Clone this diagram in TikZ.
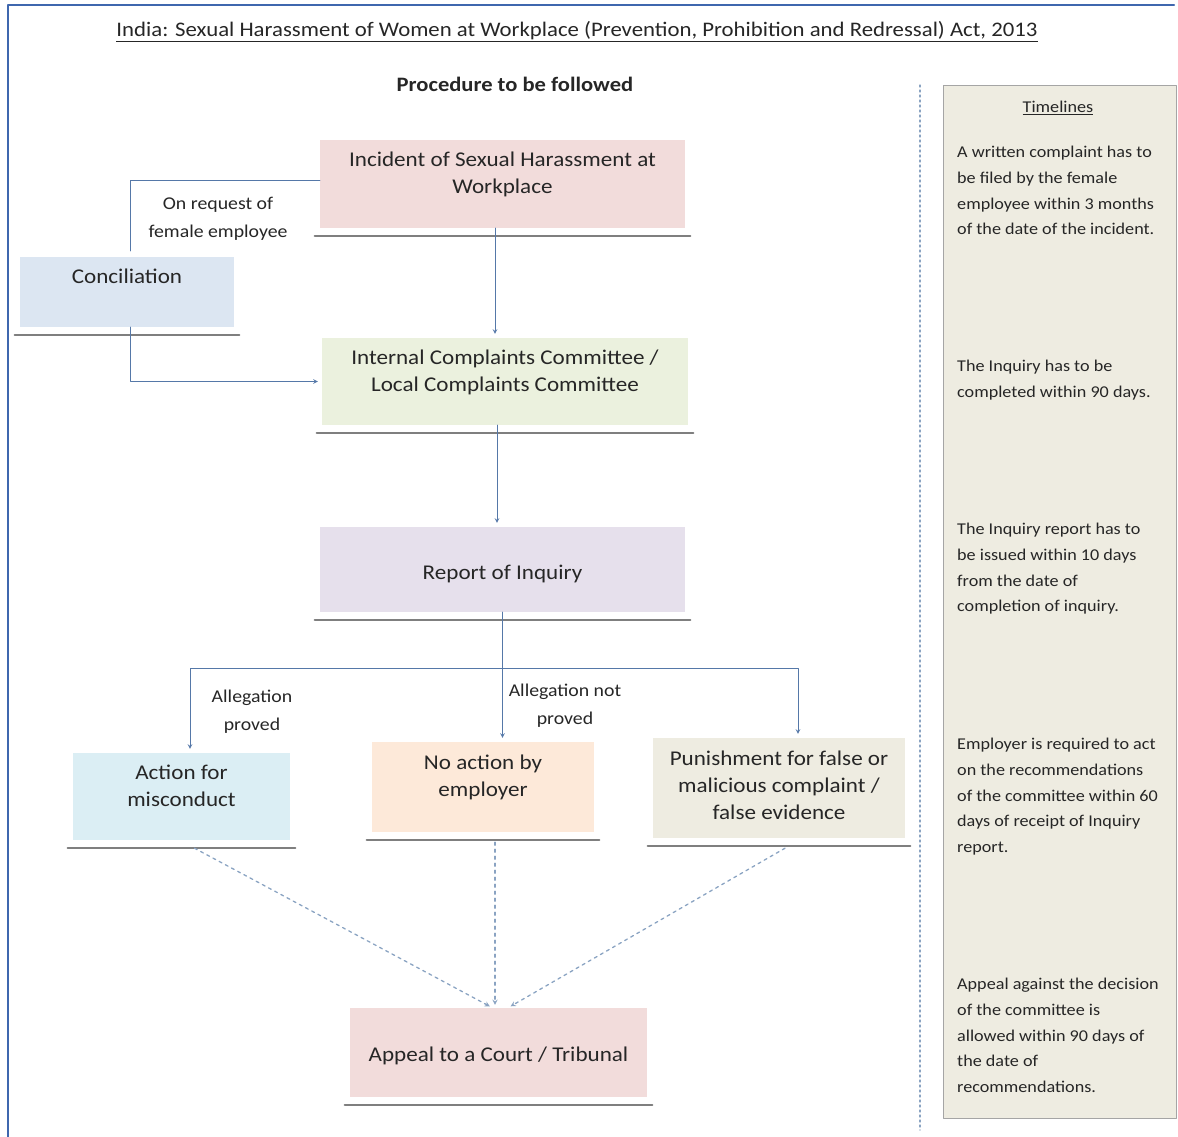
\documentclass[tikz,border=0pt]{standalone}
\usepackage{fontspec}
\setmainfont{Carlito}[FakeStretch=1.1]
\definecolor{ink}{HTML}{262626}
\definecolor{frameblue}{HTML}{3F67AE}
\definecolor{linkblue}{HTML}{5578A8}
\definecolor{dashblue}{HTML}{8AA3C2}
\definecolor{shelfgrey}{HTML}{7F7F7F}
\definecolor{pinkbox}{HTML}{F2DCDB}
\definecolor{bluebox}{HTML}{DCE6F2}
\definecolor{greenbox}{HTML}{EBF1DE}
\definecolor{lilacbox}{HTML}{E6E0EC}
\definecolor{cyanbox}{HTML}{DBEEF4}
\definecolor{peachbox}{HTML}{FDE9D9}
\definecolor{tanbox}{HTML}{EEECE1}
\begin{document}
\begin{tikzpicture}[x=1pt, y=-1pt, line join=round, line cap=round, >=stealth]
	\tikzset{step-box/.style={fill=#1, draw=none, inner sep=0pt},
		step-text/.style={align=center, text=ink, inner sep=0pt, font=\fontsize{21}{27}\selectfont},
		side-text/.style={align=center, text=ink, inner sep=0pt, font=\fontsize{18}{28}\selectfont},
		time-text/.style={align=left, text=ink, inner sep=0pt, anchor=north west, font=\fontsize{16.5}{25.7}\selectfont},
		shelf-line/.style={draw=shelfgrey, line width=2.5pt},
		flow-arrow/.style={draw=linkblue, line width=1pt, shorten >=4pt},
		dash-arrow/.style={draw=dashblue, line width=1.3pt, dash pattern=on 3pt off 4pt, shorten >=3pt}}
	\useasboundingbox (0,0) rectangle (1178,1137);
	% frame
	\draw[frameblue, line width=2pt] (8,1137) -- (8,5) -- (1174,5);
	% headings
	\node[text=ink, font=\fontsize{20.7}{24}\selectfont] (title) at (577,32) {\underline{India: Sexual Harassment of Women at Workplace (Prevention, Prohibition and Redressal) Act, 2013}};
	\node[text=ink, font=\fontsize{20.5}{24}\selectfont\bfseries] (subtitle) at (515,84) {Procedure to be followed};
	% boxes
	\node[step-box=pinkbox, minimum width=365pt, minimum height=88pt] (incident) at (502.5,184) {};
	\node[step-box=bluebox, minimum width=214pt, minimum height=70pt] (concil) at (127,292) {};
	\node[step-box=greenbox, minimum width=366pt, minimum height=87pt] (icc) at (505,381.5) {};
	\node[step-box=lilacbox, minimum width=365pt, minimum height=85pt] (report) at (502.5,569.5) {};
	\node[step-box=cyanbox, minimum width=217pt, minimum height=87pt] (action) at (181.5,796.5) {};
	\node[step-box=peachbox, minimum width=222pt, minimum height=90pt] (noaction) at (483,787) {};
	\node[step-box=tanbox, minimum width=252pt, minimum height=100pt] (punish) at (779,788) {};
	\node[step-box=pinkbox, minimum width=297pt, minimum height=89pt] (appeal) at (498.5,1052.5) {};
	\foreach \n in {incident,concil,icc,report,action,noaction,punish,appeal}
		\draw[shelf-line] ([xshift=-5pt,yshift=-8pt]\n.south west) -- ([xshift=5pt,yshift=-8pt]\n.south east);
	% box texts
	\node[step-text] (incident-t) at (502.5,174) {Incident of Sexual Harassment at\\Workplace};
	\node[step-text] (concil-t) at (127,276) {Conciliation};
	\node[step-text] (icc-t) at (505,372) {Internal Complaints Committee /\\Local Complaints Committee};
	\node[step-text] (report-t) at (502.5,574) {Report of Inquiry};
	\node[step-text] (action-t) at (181.5,786) {Action for\\misconduct};
	\node[step-text] (noaction-t) at (483,777) {No action by\\employer};
	\node[step-text] (punish-t) at (779,785) {Punishment for false or\\malicious complaint /\\false evidence};
	\node[step-text] (appeal-t) at (498.5,1056) {Appeal to a Court / Tribunal};
	% connectors
	\draw[flow-arrow, ->] ([xshift=-7.5pt]incident.south) -- ([xshift=-10pt]icc.north);
	\draw[flow-arrow, ->] ([xshift=-8pt]icc.south) -- ([xshift=-5.5pt]report.north);
	\draw[flow-arrow, shorten >=0pt] ([yshift=4pt]incident.west) -| ([xshift=3pt,yshift=6pt]concil.north);
	\draw[flow-arrow, ->] ([xshift=3pt]concil.south) |- (icc.west);
	\draw[flow-arrow, shorten >=0pt] (report.south) -- ++(0,56) coordinate (fork);
	\draw[flow-arrow, ->] (fork) -| ([xshift=8.5pt]action.north);
	\draw[flow-arrow, ->] (fork) -- ([xshift=19.5pt]noaction.north);
	\draw[flow-arrow, ->] (fork) -| ([xshift=19pt]punish.north);
	\draw[dash-arrow, ->] ([xshift=13pt,yshift=-8pt]action.south) -- ([xshift=-6pt]appeal.north);
	\draw[dash-arrow, ->] ([xshift=12pt,yshift=-10pt]noaction.south) -- ([xshift=-3.5pt]appeal.north);
	\draw[dash-arrow, ->] ([xshift=6pt,yshift=-10pt]punish.south) -- ([xshift=9.5pt]appeal.north);
	% connector labels
	\node[side-text] (request) at (218,219) {On request of\\female employee};
	\node[side-text] (proved) at (252,712) {Allegation\\proved};
	\node[side-text] (notproved) at (565,706) {Allegation not\\proved};
	% timelines
	\draw[dashblue, line width=1.2pt, dash pattern=on 2pt off 3pt] (920,85) -- (920,1130);
	\node[step-box=tanbox, draw=shelfgrey!70, line width=1pt, minimum width=233pt, minimum height=1032pt] (timeline) at (1059.5,602) {};
	\node[text=ink, font=\fontsize{16.5}{18}\selectfont] (timeline-h) at (1058,108) {\underline{Timelines}};
	\node[time-text] (t1) at (957,146) {A written complaint has to\\be filed by the female\\employee within 3 months\\of the date of the incident.};
	\node[time-text] (t2) at (957,360) {The Inquiry has to be\\completed within 90 days.};
	\node[time-text] (t3) at (957,523) {The Inquiry report has to\\be issued within 10 days\\from the date of\\completion of inquiry.};
	\node[time-text] (t4) at (957,738) {Employer is required to act\\on the recommendations\\of the committee within 60\\days of receipt of Inquiry\\report.};
	\node[time-text] (t5) at (957,978) {Appeal against the decision\\of the committee is\\allowed within 90 days of\\the date of\\recommendations.};
\end{tikzpicture}
\end{document}
